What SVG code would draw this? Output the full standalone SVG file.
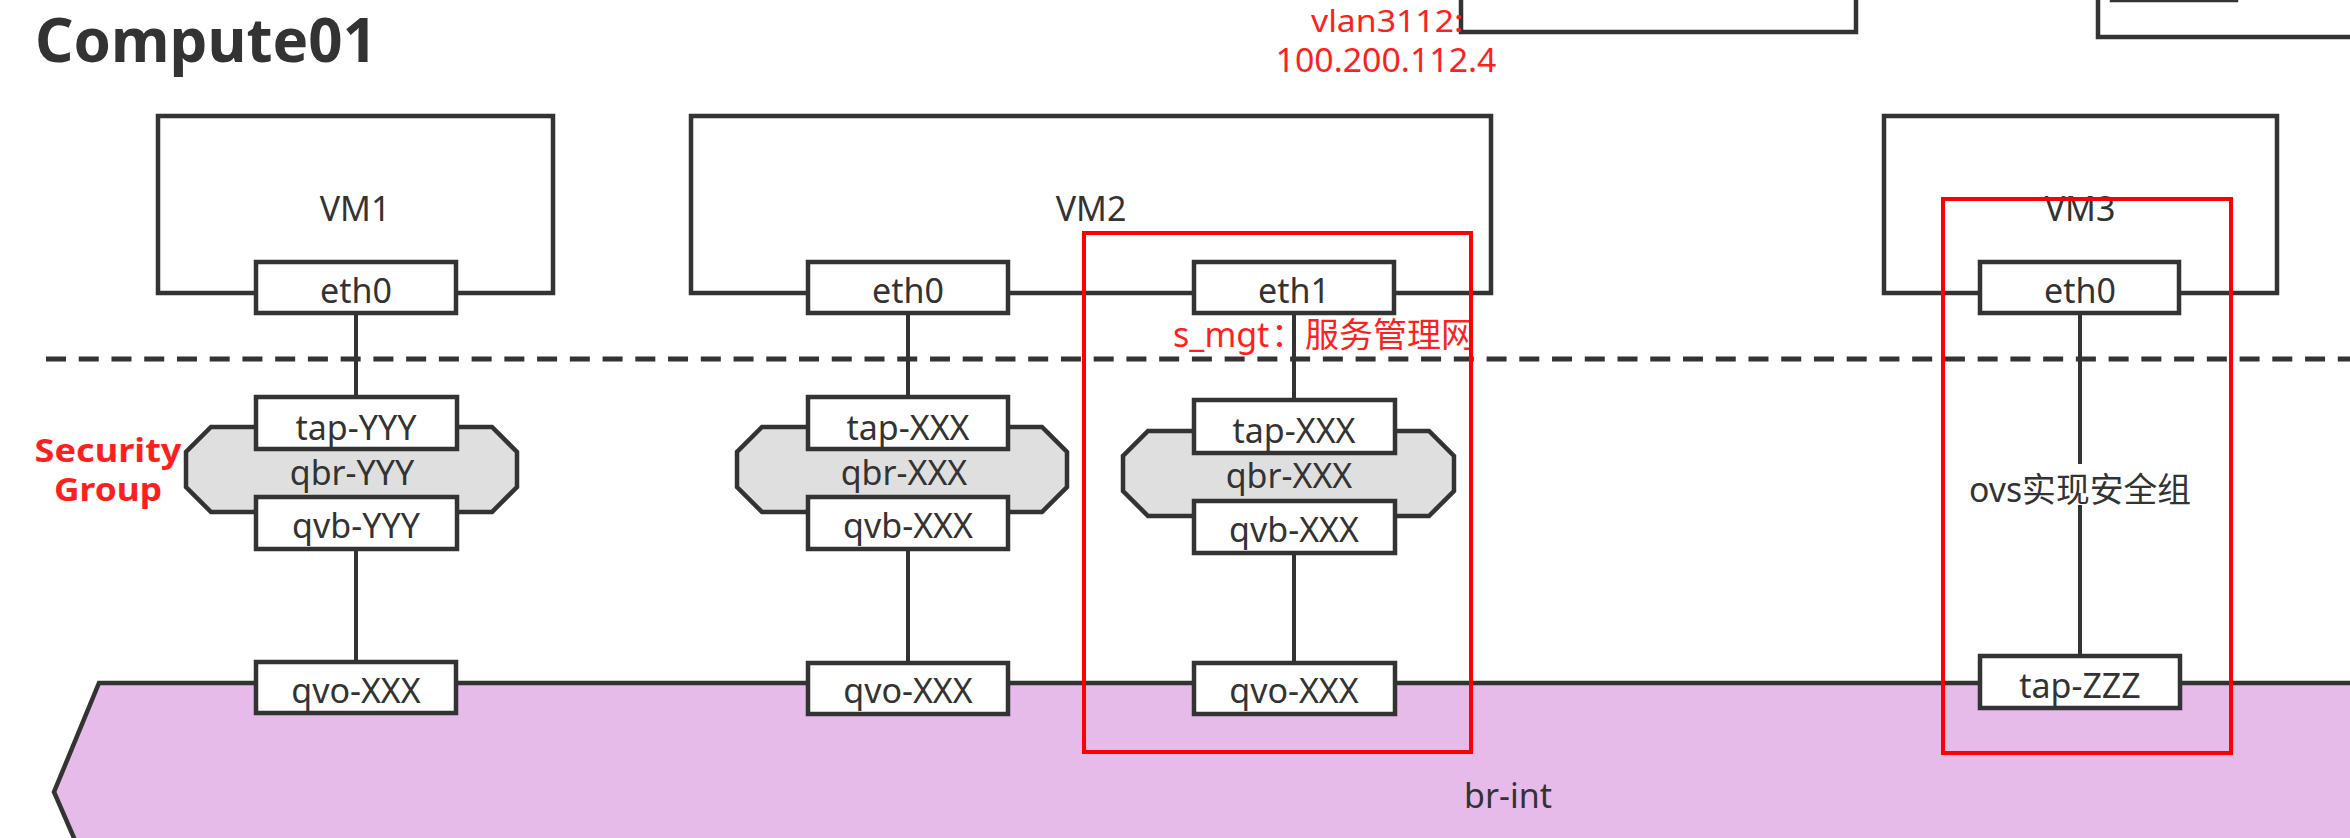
<svg xmlns="http://www.w3.org/2000/svg" width="2350" height="838" viewBox="0 0 2350 838">
<style>
.box{fill:#fff;stroke:#333;stroke-width:4.5}
.vm{fill:#fff;stroke:#333;stroke-width:4.5}
.qbr{fill:#dfdfdf;stroke:#333;stroke-width:4.5}
.ln{stroke:#333;stroke-width:4;fill:none}
.lbl{font-family:"Noto Sans","Noto Sans CJK SC",sans-serif;font-size:34px;fill:#333;text-anchor:middle}
.red{font-family:"Noto Sans","Noto Sans CJK SC",sans-serif;fill:#ff1f1f;text-anchor:middle}
.redl{font-family:"Noto Sans","Noto Sans CJK SC",sans-serif;fill:#ff1f1f;text-anchor:start}
.redbox{fill:none;stroke:#ff0000;stroke-width:4}
</style>
<rect width="2350" height="838" fill="#fff"/>

<!-- title -->
<text x="35" y="62" font-family="Noto Sans, sans-serif" font-weight="bold" font-size="61" fill="#333" textLength="342" lengthAdjust="spacingAndGlyphs">Compute01</text>

<!-- br-int -->
<g id="br-int">
<path d="M99,683 L2360,683 L2360,900 L101,900 L54,792 Z" fill="#e6bbe9" stroke="#333" stroke-width="4.5"/>
<text class="lbl" x="1508" y="808">br-int</text>
</g>

<!-- partial boxes at top -->
<g id="top-boxes">
<rect class="vm" x="1461" y="-60" width="395" height="92"/>
<rect class="vm" x="2098" y="-60" width="300" height="97"/>
<rect class="vm" x="2112" y="-60" width="124" height="60"/>
</g>

<!-- dashed separator -->
<line x1="46" y1="359" x2="2350" y2="359" stroke="#333" stroke-width="5" stroke-dasharray="20 12.74"/>

<!-- connectors -->
<g id="connectors" class="ln">
<line x1="356" y1="313" x2="356" y2="397"/>
<line x1="356" y1="549" x2="356" y2="662"/>
<line x1="908" y1="313" x2="908" y2="397"/>
<line x1="908" y1="549" x2="908" y2="663"/>
<line x1="1294" y1="313" x2="1294" y2="400"/>
<line x1="1294" y1="553" x2="1294" y2="663"/>
<line x1="2080" y1="313" x2="2080" y2="464"/>
<line x1="2080" y1="505" x2="2080" y2="656"/>
</g>

<!-- VM1 -->
<g id="vm1">
<rect class="vm" x="158" y="116" width="395" height="177"/>
<text class="lbl" x="355" y="221">VM1</text>
</g>
<g id="vm1-eth0"><rect class="box" x="256" y="262" width="200" height="51"/><text class="lbl" x="356" y="303">eth0</text></g>
<g id="qbr-yyy"><path class="qbr" d="M211,427 L492,427 L517,452 L517,487 L492,512 L211,512 L186,487 L186,452 Z"/><text class="lbl" x="352" y="485">qbr-YYY</text></g>
<g id="tap-yyy"><rect class="box" x="256" y="397" width="201" height="52"/><text class="lbl" x="356" y="440">tap-YYY</text></g>
<g id="qvb-yyy"><rect class="box" x="256" y="497" width="201" height="52"/><text class="lbl" x="356" y="538">qvb-YYY</text></g>
<g id="qvo-1"><rect class="box" x="256" y="662" width="200" height="51"/><text class="lbl" x="356" y="703">qvo-XXX</text></g>

<!-- VM2 -->
<g id="vm2">
<rect class="vm" x="691" y="116" width="800" height="177"/>
<text class="lbl" x="1091" y="221">VM2</text>
</g>
<g id="vm2-eth0"><rect class="box" x="808" y="262" width="200" height="51"/><text class="lbl" x="908" y="303">eth0</text></g>
<g id="vm2-eth1"><rect class="box" x="1194" y="262" width="200" height="51"/><text class="lbl" x="1294" y="303">eth1</text></g>
<g id="qbr-xxx-a"><path class="qbr" d="M762,427 L1042,427 L1067,452 L1067,487 L1042,512 L762,512 L737,487 L737,452 Z"/><text class="lbl" x="904" y="485">qbr-XXX</text></g>
<g id="tap-xxx-a"><rect class="box" x="808" y="397" width="200" height="52"/><text class="lbl" x="908" y="440">tap-XXX</text></g>
<g id="qvb-xxx-a"><rect class="box" x="808" y="497" width="200" height="52"/><text class="lbl" x="908" y="538">qvb-XXX</text></g>
<g id="qvo-2"><rect class="box" x="808" y="663" width="200" height="51"/><text class="lbl" x="908" y="703">qvo-XXX</text></g>
<g id="qbr-xxx-b"><path class="qbr" d="M1148,431 L1429,431 L1454,456 L1454,491 L1429,516 L1148,516 L1123,491 L1123,456 Z"/><text class="lbl" x="1289" y="488">qbr-XXX</text></g>
<g id="tap-xxx-b"><rect class="box" x="1194" y="400" width="201" height="53"/><text class="lbl" x="1294" y="443">tap-XXX</text></g>
<g id="qvb-xxx-b"><rect class="box" x="1194" y="501" width="201" height="52"/><text class="lbl" x="1294" y="542">qvb-XXX</text></g>
<g id="qvo-3"><rect class="box" x="1194" y="663" width="201" height="51"/><text class="lbl" x="1294" y="703">qvo-XXX</text></g>

<!-- VM3 -->
<g id="vm3">
<rect class="vm" x="1884" y="116" width="393" height="177"/>
<text class="lbl" x="2080" y="221">VM3</text>
</g>
<g id="vm3-eth0"><rect class="box" x="1980" y="262" width="199" height="51"/><text class="lbl" x="2080" y="303">eth0</text></g>
<g id="ovs-label"><text class="lbl" x="2080" y="502" font-size="33" textLength="222" lengthAdjust="spacingAndGlyphs">ovs实现安全组</text></g>
<g id="tap-zzz"><rect class="box" x="1980" y="656" width="200" height="52"/><text class="lbl" x="2080" y="698">tap-ZZZ</text></g>

<!-- red annotations -->
<g id="annotations">
<text class="red" x="1387" y="32" font-size="31" textLength="152" lengthAdjust="spacingAndGlyphs">vlan3112:</text>
<text class="red" x="1386" y="72" font-size="33" textLength="221" lengthAdjust="spacingAndGlyphs">100.200.112.4</text>
<text class="red" x="108" y="462" font-size="32" font-weight="bold" textLength="147" lengthAdjust="spacingAndGlyphs">Security</text>
<text class="red" x="108" y="501" font-size="32" font-weight="bold" textLength="108" lengthAdjust="spacingAndGlyphs">Group</text>
<text class="redl" y="347" font-size="34"><tspan x="1173">s_mgt</tspan><tspan x="1271">：</tspan><tspan x="1305">服务管理网</tspan></text>
<rect class="redbox" x="1084" y="233" width="387" height="519"/>
<rect class="redbox" x="1943" y="199" width="288" height="554"/>
</g>
</svg>
